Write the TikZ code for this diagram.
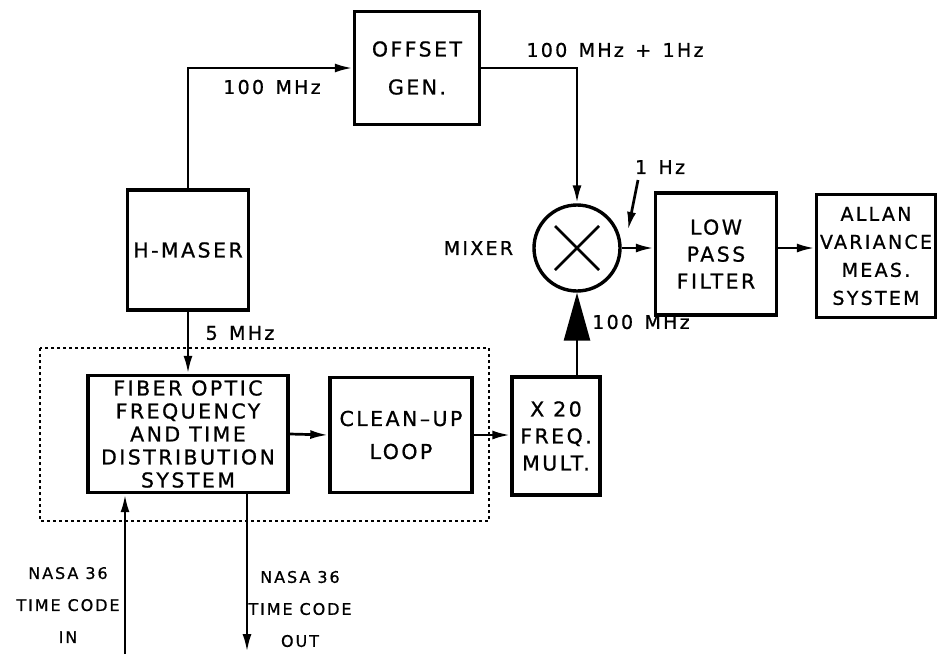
\documentclass[tikz,border=0pt]{standalone}
\usepackage{fontspec}
\setmainfont{DejaVu Sans}[LetterSpace=12,FakeBold=0.8]
\usetikzlibrary{arrows.meta,positioning}
\newcommand\lblfont{\fontsize{19}{22}\selectfont\spaceskip=0.6em\relax}

\begin{document}
\begin{tikzpicture}[x=1pt,y=-1pt,
  blk/.style={draw,line width=3.4pt,align=center,inner sep=0pt,font=\fontsize{20.5}{27}\selectfont},
  wire/.style={line width=2.7pt,-{Latex[length=18pt,width=9pt]}},
  lbl/.style={font=\lblfont,inner sep=0pt},
  tc/.style={font=\fontsize{16}{32}\selectfont,align=center,inner sep=0pt}]
\useasboundingbox (0,0) rectangle (938,654);
% boxes
\node [blk,minimum width=125pt,minimum height=113pt] (off) at (417,68) {OFFSET\\[11pt]GEN.};
\node [blk,minimum width=121pt,minimum height=120pt] (maser) at (188,250) {H-MASER};
\node [blk,minimum width=200pt,minimum height=117pt,font=\fontsize{20.5}{23}\selectfont] (fib) at (188,434)
  {FIBER OPTIC\\FREQUENCY\\AND TIME\\DISTRIBUTION\\SYSTEM};
\node [blk,minimum width=142pt,minimum height=115pt] (cu) at (401,435) {CLEAN--UP\\[6pt]LOOP};
\node [blk,minimum width=88pt,minimum height=118pt] (x20) at (556,436) {X 20\\FREQ.\\MULT.};
\node [circle,draw,line width=3.4pt,minimum size=86pt,inner sep=0pt] (mix) at (577,248) {};
\draw [line width=2.8pt] (mix) ++(-22,-22) -- ++(44,44) (mix) ++(22,-22) -- ++(-44,44);
\node [blk,minimum width=121pt,minimum height=122pt] (lp) at (716,254) {LOW\\PASS\\FILTER};
\node [blk,minimum width=119pt,minimum height=123pt,font=\fontsize{19}{28}\selectfont] (allan) at (876,256)
  {ALLAN\\VARIANCE\\MEAS.\\SYSTEM};
% labels
\node [lbl] (m100) at (272,87) {100 MHz};
\node [lbl] (moff) at (615,50) {100 MHz + 1Hz};
\node [lbl,left=19pt of mix] (mixl) {MIXER};
\node [lbl] (hz) at (660,167) {1 Hz};
\node [lbl] (m5) at (240,333) {5 MHz};
\node [lbl] (m100b) at (641,322) {100 MHz};
\node [tc] (tin) at (68,605) {NASA 36\\TIME CODE\\IN};
\node [tc] (tout) at (300,609) {NASA 36\\TIME CODE\\OUT};
% dotted frame
\draw [line width=1.6pt,dash pattern=on 3pt off 3pt] (40,348) rectangle (489,521);
% connections
\draw [wire] (maser.north) |- (off.west);
\draw [wire] (off.east) -| (mix.north);
\draw [wire] (mix.east) -- (lp.west |- mix.east);
\draw [wire] (lp.east |- mix.east) -- (allan.west |- mix.east);
\draw [line width=2.7pt,-{Triangle[length=48pt,width=26pt]}] (x20.north -| mix) -- (mix.south);
\draw [wire] (maser.south) -- (fib.north);
\draw [wire] (fib.east) -- (cu.west);
\draw [wire] (cu.east) -- (cu.east -| x20.west);
\coordinate (hzbeg) at (638,180);
\coordinate (hzend) at (628,230);
\draw [wire] (hzbeg) -- (hzend);
\coordinate (tcin) at (125,654);
\draw [wire] (tcin) -- (tcin |- fib.south);
\coordinate (tcout) at (247,652);
\draw [wire] (fib.south -| tcout) -- (tcout);
\end{tikzpicture}
\end{document}
